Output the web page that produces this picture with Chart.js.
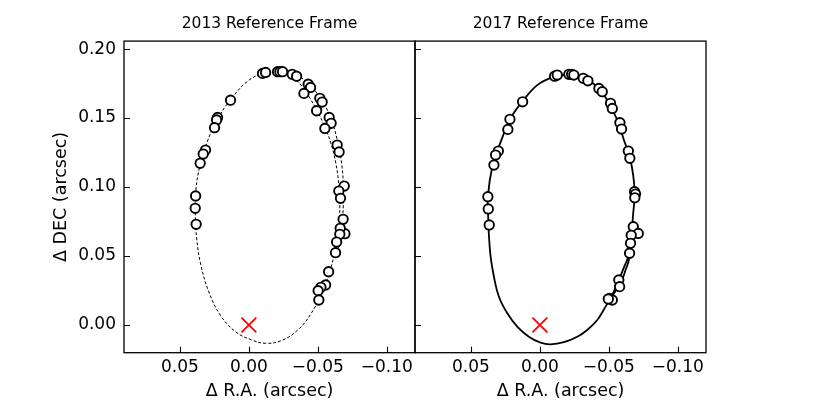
<!DOCTYPE html>
<html>
<head>
<meta charset="utf-8">
<script src="https://cdn.jsdelivr.net/npm/chart.js@4.4.1/dist/chart.umd.min.js"></script>
<style>
  html, body { margin: 0; padding: 0; background: #ffffff; }
  #wrap { position: relative; width: 830px; height: 415px; }
  #wrap canvas { position: absolute; left: 0; top: 0; }
</style>
</head>
<body>
<div id="wrap">
  <canvas id="c1" width="830" height="415"></canvas>
  <canvas id="c2" width="830" height="415"></canvas>
</div>
<script>
// ---------- tick labels ----------
const yTickVals = [0, 0.05, 0.10, 0.15, 0.20];
const yTickLabels = ['0.00', '0.05', '0.10', '0.15', '0.20'];
const xTickVals = [0.05, 0, -0.05, -0.10];
const xTickLabels = ['0.05', '0.00', '\u22120.05', '\u22120.10'];

const panelTitles = ['2013 Reference Frame', '2017 Reference Frame'];
const xAxisTitle = '\u0394 R.A. (arcsec)';
const yAxisTitle = '\u0394 DEC (arcsec)';

// ---------- 2013 frame: observed positions ----------
const ra2013 = [-0.0099, -0.0121, -0.0208, -0.0225, -0.0244, -0.0314, -0.0346, -0.0430, -0.0447, -0.0399,
  -0.0514, -0.0531, -0.0491, -0.0582, -0.0596, -0.0551, -0.0640, -0.0654, -0.0691, -0.0652,
  -0.0664, -0.0683, -0.0696, -0.0662, -0.0659, -0.0636, -0.0628, -0.0578, -0.0556, -0.0522,
  -0.0502, -0.0507, 0.0133, 0.0227, 0.0234, 0.0249, 0.0314, 0.0331, 0.0353, 0.0386, 0.0389, 0.0382];
const dec2013 = [0.1824, 0.1831, 0.1836, 0.1836, 0.1836, 0.1817, 0.1804, 0.1746, 0.1722, 0.1679,
  0.1643, 0.1616, 0.1553, 0.1505, 0.1462, 0.1425, 0.1304, 0.1254, 0.1007, 0.0971,
  0.0918, 0.0766, 0.0662, 0.0701, 0.0657, 0.0601, 0.0524, 0.0386, 0.0290, 0.0273,
  0.0249, 0.0181, 0.1630, 0.1505, 0.1486, 0.1430, 0.1268, 0.1239, 0.1172, 0.0935, 0.0846, 0.0730];

// ---------- 2013 frame: model orbit (traced) ----------
const orbitRa2013 = [-0.0225, -0.0101, 0.0014, 0.0123, 0.0210, 0.0297, 0.0355, 0.0384, 0.0388, 0.0377,
  0.0348, 0.0290, 0.0203, 0.0094, -0.0022, -0.0123, -0.0239, -0.0355, -0.0449, -0.0522,
  -0.0580, -0.0623, -0.0652, -0.0659, -0.0652, -0.0630, -0.0594, -0.0551, -0.0500, -0.0442,
  -0.0384, -0.0312, -0.0225];
const orbitDec2013 = [0.1837, 0.1824, 0.1763, 0.1645, 0.1522, 0.1341, 0.1152, 0.0978, 0.0797, 0.0616,
  0.0435, 0.0239, 0.0065, -0.0051, -0.0109, -0.0133, -0.0112, -0.0036, 0.0080, 0.0217,
  0.0370, 0.0529, 0.0703, 0.0870, 0.1014, 0.1174, 0.1319, 0.1435, 0.1543, 0.1645,
  0.1732, 0.1797, 0.1837];
const arcRa2013 = [-0.0312, -0.0341, -0.0420, -0.0493, -0.0558, -0.0609, -0.0645, -0.0674, -0.0685, -0.0681, -0.0667, -0.0645, -0.0623];
const arcDec2013 = [0.1797, 0.1812, 0.1761, 0.1681, 0.1580, 0.1457, 0.1319, 0.1159, 0.0978, 0.0797, 0.0652, 0.0543, 0.0529];

// ---------- 2017 frame: observed positions ----------
const ra2017 = [-0.0107, -0.0126, -0.0210, -0.0230, -0.0246, -0.0314, -0.0348, -0.0428, -0.0452, -0.0512,
  -0.0525, -0.0580, -0.0592, -0.0641, -0.0652, -0.0686, -0.0693, -0.0688, -0.0677, -0.0713,
  -0.0662, -0.0657, -0.0650, -0.0572, -0.0578, -0.0505, -0.0525, -0.0496, 0.0125, 0.0217,
  0.0232, 0.0301, 0.0321, 0.0333, 0.0377, 0.0374, 0.0367];
const dec2017 = [0.1804, 0.1812, 0.1817, 0.1817, 0.1812, 0.1788, 0.1770, 0.1715, 0.1691, 0.1607,
  0.1570, 0.1466, 0.1420, 0.1261, 0.1208, 0.0966, 0.0949, 0.0922, 0.0712, 0.0664,
  0.0650, 0.0592, 0.0520, 0.0326, 0.0278, 0.0193, 0.0181, 0.0188, 0.1618, 0.1491,
  0.1418, 0.1261, 0.1232, 0.1159, 0.0930, 0.0841, 0.0725];

// ---------- 2017 frame: model orbit (traced) ----------
const orbitRa2017 = [-0.0222, -0.0101, 0.0019, 0.0128, 0.0212, 0.0297, 0.0345, 0.0377, 0.0375, 0.0370,
  0.0357, 0.0333, 0.0297, 0.0236, 0.0164, 0.0080, -0.0005, -0.0077, -0.0174, -0.0271,
  -0.0343, -0.0416, -0.0476, -0.0512, -0.0585, -0.0621, -0.0645, -0.0662, -0.0674, -0.0686,
  -0.0657, -0.0609, -0.0561, -0.0488, -0.0416, -0.0319, -0.0222];
const orbitDec2017 = [0.1817, 0.1799, 0.1739, 0.1618, 0.1498, 0.1292, 0.1147, 0.0930, 0.0797, 0.0664,
  0.0495, 0.0350, 0.0205, 0.0085, -0.0012, -0.0085, -0.0128, -0.0140, -0.0125, -0.0085,
  -0.0036, 0.0036, 0.0133, 0.0193, 0.0302, 0.0399, 0.0471, 0.0620, 0.0780, 0.0978,
  0.1196, 0.1341, 0.1486, 0.1630, 0.1727, 0.1788, 0.1817];
const arcRa2017 = [-0.0660, -0.0650, -0.0614, -0.0572, -0.0534, -0.0500];
const arcDec2017 = [0.0600, 0.0520, 0.0428, 0.0326, 0.0239, 0.0170];

// ---------- primary star ----------
const starRa = [0];
const starDec = [0];

// ---------- axis ranges ----------
const xRange = [-0.1204, 0.0905];
const yRange = [-0.0201, 0.2058];

const FONT = "'DejaVu Sans', 'Liberation Sans', sans-serif";
const pts = (xs, ys) => xs.map((x, i) => ({ x: x, y: ys[i] }));

const frameTicks = {
  id: 'frameTicks',
  afterDraw(chart) {
    const ctx = chart.ctx;
    const a = chart.chartArea;
    const xs = chart.scales.x, ys = chart.scales.y;
    ctx.save();
    ctx.strokeStyle = '#000';
    ctx.lineWidth = 1.1;
    const L = 6;
    ctx.beginPath();
    xTickVals.forEach(v => {
      const p = Math.round(xs.getPixelForValue(v)) + 0.5;
      ctx.moveTo(p, a.bottom);
      ctx.lineTo(p, a.bottom - L);
    });
    yTickVals.forEach(v => {
      const p = Math.round(ys.getPixelForValue(v)) + 0.5;
      ctx.moveTo(a.left, p);
      ctx.lineTo(a.left + L, p);
    });
    ctx.stroke();
    ctx.lineWidth = 1.3;
    ctx.strokeRect(a.left, a.top, a.right - a.left, a.bottom - a.top);
    ctx.restore();
  }
};

function makeConfig(idx) {
  const first = idx === 0;
  const obs = first ? pts(ra2013, dec2013) : pts(ra2017, dec2017);
  const orbit = first ? pts(orbitRa2013, orbitDec2013) : pts(orbitRa2017, orbitDec2017);
  const arc = first ? pts(arcRa2013, arcDec2013) : pts(arcRa2017, arcDec2017);
  const lineStyle = first
    ? { borderColor: '#000', borderWidth: 1, borderDash: [3, 2] }
    : { borderColor: '#000', borderWidth: 1.8, borderDash: [] };
  return {
    type: 'scatter',
    data: {
      datasets: [
        Object.assign({ data: orbit, showLine: true, pointRadius: 0, order: 4, tension: 0.4 }, lineStyle),
        Object.assign({ data: arc, showLine: true, pointRadius: 0, order: 3, tension: 0.4 }, lineStyle),
        { data: obs, showLine: false, pointRadius: 4.7, pointBackgroundColor: '#ffffff',
          pointBorderColor: '#000', pointBorderWidth: 1.9, order: 2 },
        { data: pts(starRa, starDec), showLine: false, pointStyle: 'crossRot', pointRadius: 10.5,
          pointBorderColor: '#ff0000', pointBorderWidth: 1.8, order: 1 }
      ]
    },
    options: {
      responsive: false,
      animation: false,
      devicePixelRatio: 1,
      layout: { padding: { left: 0, right: first ? 415 : 124, top: 0, bottom: 0 } },
      plugins: {
        legend: { display: false },
        tooltip: { enabled: false },
        title: {
          display: true, text: panelTitles[idx], fullSize: false, color: '#000',
          font: { family: FONT, size: 15.5, weight: 'normal', lineHeight: 1.2 },
          padding: { top: 14.5, bottom: 8 }
        }
      },
      scales: {
        x: {
          type: 'linear', reverse: true, min: xRange[0], max: xRange[1],
          grid: { display: false, drawTicks: false },
          border: { display: false },
          afterFit(s) { s.height = 62.3; },
          afterBuildTicks(s) { s.ticks = xTickVals.map(v => ({ value: v })); },
          ticks: {
            color: '#000', padding: 5, maxRotation: 0, autoSkip: false,
            font: { family: FONT, size: 17 },
            callback: (v) => { const i = xTickVals.findIndex(t => Math.abs(t - v) < 1e-9); return i >= 0 ? xTickLabels[i] : ''; }
          },
          title: { display: true, text: xAxisTitle, color: '#000',
            font: { family: FONT, size: 17.5, lineHeight: 1.2 }, padding: { top: 0, bottom: 13 } }
        },
        y: {
          type: 'linear', min: yRange[0], max: yRange[1],
          grid: { display: false, drawTicks: false },
          border: { display: false },
          afterFit(s) { s.width = first ? 124 : 415; },
          afterBuildTicks(s) { s.ticks = yTickVals.map(v => ({ value: v })); },
          ticks: {
            display: first, color: '#000', padding: 8, autoSkip: false,
            font: { family: FONT, size: 17 },
            callback: (v) => { const i = yTickVals.findIndex(t => Math.abs(t - v) < 1e-9); return i >= 0 ? yTickLabels[i] : ''; }
          },
          title: { display: first, text: yAxisTitle, color: '#000',
            font: { family: FONT, size: 17.5, lineHeight: 1.2 }, padding: { top: 51, bottom: 0 } }
        }
      }
    },
    plugins: [frameTicks]
  };
}

new Chart(document.getElementById('c1'), makeConfig(0));
new Chart(document.getElementById('c2'), makeConfig(1));
</script>
</body>
</html>
